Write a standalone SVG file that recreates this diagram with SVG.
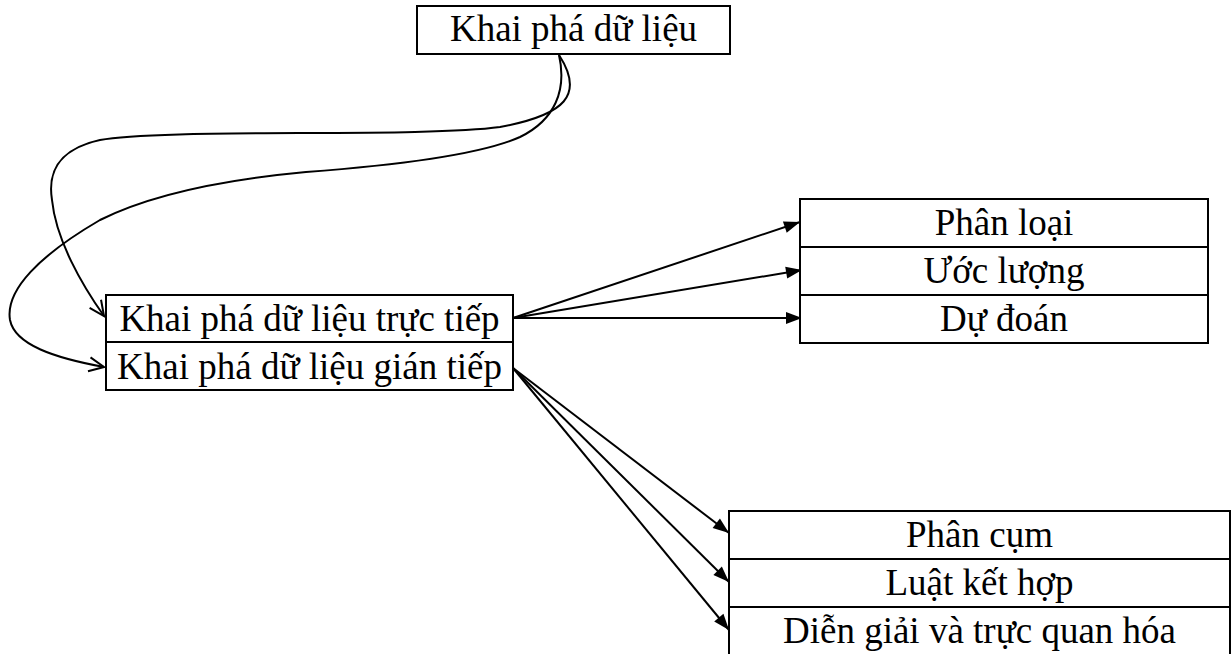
<svg xmlns="http://www.w3.org/2000/svg" width="1232" height="654" viewBox="0 0 1232 654">
<style>
.box{fill:#fff;stroke:#000;stroke-width:2}
.sep{stroke:#000;stroke-width:2}
.t{font-family:"Liberation Serif","Times New Roman",serif;font-size:37px;fill:#000;text-anchor:middle}
.c{fill:none;stroke:#000;stroke-width:2}
</style>
<defs>
<marker id="fa" markerUnits="userSpaceOnUse" markerWidth="18" markerHeight="14" refX="16" refY="6" orient="auto" overflow="visible">
<path d="M0,0 L16,6 L0,12 z" fill="#000"/>
</marker>
<marker id="oa" markerUnits="userSpaceOnUse" markerWidth="18" markerHeight="14" refX="15" refY="7" orient="auto" overflow="visible">
<path d="M0,0 L15,7 L0,14" fill="none" stroke="#000" stroke-width="2"/>
</marker>
</defs>
<g id="connectors">
<path class="c" marker-end="url(#oa)" d="M559,55 C585,95 565,115 500,127 C420,138 160,128 100,140 C55,150 48,175 52,200 C56,240 82,285 104,316"/>
<path class="c" marker-end="url(#oa)" d="M559,55 C567,90 555,120 520,137 C480,155 400,165 306,172 C220,180 150,195 100,220 C40,255 5,290 10,320 C15,345 55,358 104,367"/>
<path class="c" marker-end="url(#fa)" d="M513,318 L800,222"/>
<path class="c" marker-end="url(#fa)" d="M513,318 L802,270"/>
<path class="c" marker-end="url(#fa)" d="M513,318 L802,318"/>
<path class="c" marker-end="url(#fa)" d="M513,368 L729,533"/>
<path class="c" marker-end="url(#fa)" d="M513,368 L729,582"/>
<path class="c" marker-end="url(#fa)" d="M513,368 L729,630"/>
</g>
<g id="node-root">
<rect class="box" x="417" y="6" width="313" height="48"/>
<text class="t" x="573.5" y="41">Khai phá dữ liệu</text>
</g>
<g id="node-methods">
<rect class="box" x="106" y="295" width="407" height="95"/>
<line class="sep" x1="106" y1="342" x2="513" y2="342"/>
<text class="t" x="309.5" y="331">Khai phá dữ liệu trực tiếp</text>
<text class="t" x="309.5" y="379">Khai phá dữ liệu gián tiếp</text>
</g>
<g id="node-direct">
<rect class="box" x="800" y="199" width="408" height="144"/>
<line class="sep" x1="800" y1="247" x2="1208" y2="247"/>
<line class="sep" x1="800" y1="295" x2="1208" y2="295"/>
<text class="t" x="1004" y="235">Phân loại</text>
<text class="t" x="1004" y="283">Ước lượng</text>
<text class="t" x="1004" y="331">Dự đoán</text>
</g>
<g id="node-indirect">
<rect class="box" x="729" y="511" width="501" height="148"/>
<line class="sep" x1="729" y1="559" x2="1230" y2="559"/>
<line class="sep" x1="729" y1="607" x2="1230" y2="607"/>
<text class="t" x="979.5" y="547">Phân cụm</text>
<text class="t" x="979.5" y="595">Luật kết hợp</text>
<text class="t" x="979.5" y="643">Diễn giải và trực quan hóa</text>
</g>
</svg>
